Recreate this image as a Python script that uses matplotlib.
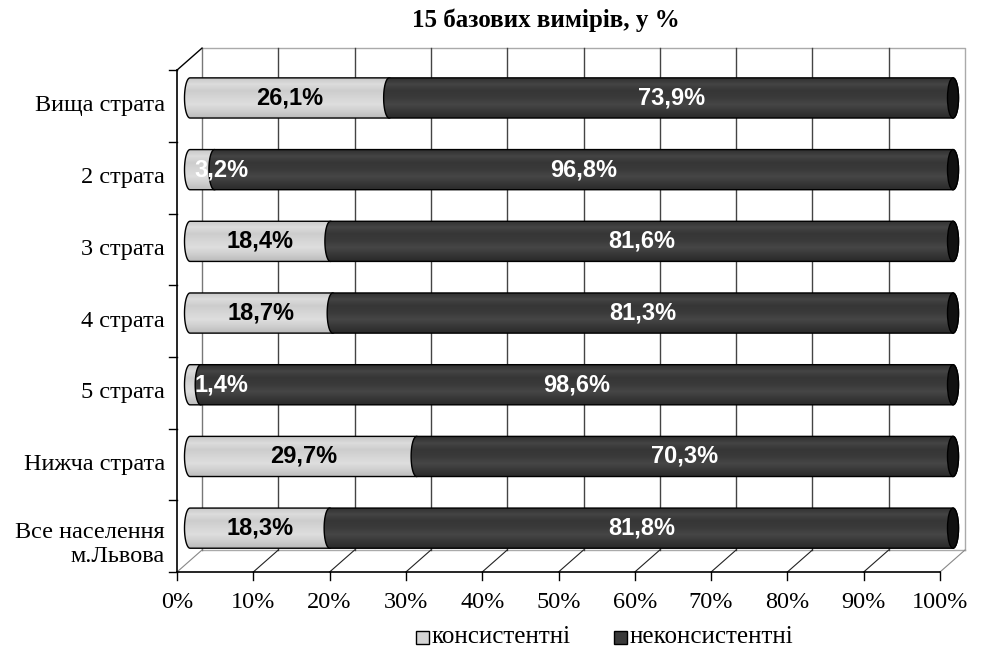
import matplotlib
matplotlib.use("Agg")
import matplotlib.pyplot as plt
import numpy as np
from matplotlib.patches import Polygon, Ellipse, Rectangle
from matplotlib.colors import LinearSegmentedColormap

plt.rcParams['font.family'] = ['Liberation Serif', 'DejaVu Serif']

# data (bottom to top)
categories = ['Все населення\nм.Львова', 'Нижча страта', '5 страта', '4 страта',
              '3 страта', '2 страта', 'Вища страта']
consistent = [18.3, 29.7, 1.4, 18.7, 18.4, 3.2, 26.1]
inconsistent = [81.8, 70.3, 98.6, 81.3, 81.6, 96.8, 73.9]
xticks = list(range(0, 101, 10))
series_names = ['консистентні', 'неконсистентні']

light_col = '#d4d4d4'
dark_col = '#3a3a3a'

fig = plt.figure(figsize=(9.81, 6.53), dpi=100)
ax = fig.add_axes([0, 0, 1, 1])
# pixel mapping: 0% at px 177, 100% at px 940; y front bottom px 572, 71.7 px per row
pxx = 7.63
pxy = 71.7
ax.set_xlim(-177 / pxx, (981 - 177) / pxx)
ax.set_ylim(-(653 - 572) / pxy, 572 / pxy)
ax.axis('off')

n = len(categories)
dx, dy = 25 / pxx, 22 / pxy      # depth of the wall
mx, my = 13 / pxx, 8 / pxy       # bars at mid depth
ew, eh = 5.5 / pxx, 0.28         # ellipse half sizes

# back wall
ax.plot([dx, 100 + dx, 100 + dx], [n + dy, n + dy, dy], color='#aaaaaa', lw=1)
ax.plot([dx, 100 + dx], [dy, dy], color='#aaaaaa', lw=1)
for t in xticks[:-1]:
    ax.plot([t + dx, t + dx], [dy, n + dy], color='#777777' if t == 0 else '#444444', lw=1)
# floor
for t in xticks:
    ax.plot([t, t + dx], [0, dy], color='#222222' if 0 < t < 100 else '#888888', lw=0.8)
ax.plot([0, 100], [0, 0], color='black', lw=1.2)
for t in xticks:
    ax.plot([t, t], [0, -8 / pxy], color='black', lw=1)
    ax.text(t, -31 / pxy, f'{t}%', ha='center', va='center', fontsize=17.5)
# left side wall
ax.plot([0, 0], [0, n], color='black', lw=1.2)
ax.plot([0, dx], [n, n + dy], color='black', lw=1)
for i in range(n + 1):
    ax.plot([-8 / pxx, 0], [i, i], color='black', lw=1)
for i, c in enumerate(categories):
    ax.text(-12 / pxx, i + 0.5 - (0.12 if '\n' in c else 0), c, ha='right', va='center',
            fontsize=17.5, linespacing=1.2)

cmap_light = LinearSegmentedColormap.from_list(
    'l', ['#bcbcbc', '#cfcfcf', '#dedede', '#d6d6d6', '#cdcdcd', '#dcdcdc', '#c6c6c6'])
cmap_dark = LinearSegmentedColormap.from_list(
    'd', ['#2a2a2a', '#383838', '#464646', '#3a3a3a', '#363636', '#444444', '#2e2e2e'])

z = [3]


def segment(a, b, yc, cmap, color):
    th = np.linspace(np.pi / 2, 3 * np.pi / 2, 40)
    left = np.column_stack([a + mx + ew * np.cos(th), yc + eh * np.sin(th)])
    th2 = np.linspace(-np.pi / 2, np.pi / 2, 40)
    right = np.column_stack([b + mx + ew * np.cos(th2), yc + eh * np.sin(th2)])
    pts = np.vstack([left, right])
    zz = z[0]
    poly = Polygon(pts, closed=True, facecolor=color, edgecolor='none', zorder=zz)
    ax.add_patch(poly)
    grad = np.linspace(0, 1, 60).reshape(-1, 1)
    im = ax.imshow(grad, cmap=cmap, aspect='auto', origin='lower', zorder=zz + 0.01,
                   extent=[a + mx - ew, b + mx + ew, yc - eh, yc + eh])
    im.set_clip_path(poly)
    ax.add_patch(Polygon(pts, closed=True, facecolor='none', edgecolor='black',
                         lw=1, zorder=zz + 0.02))
    z[0] += 0.1


for i in range(n):
    yc = i + 0.5 + my
    v1 = consistent[i]
    v2 = inconsistent[i]
    segment(0, v1, yc, cmap_light, light_col)
    segment(v1, 100, yc, cmap_dark, dark_col)
    ax.add_patch(Ellipse((100 + mx, yc), 2 * ew, 2 * eh, facecolor='#111111',
                         edgecolor='black', lw=1, zorder=z[0]))
    z[0] += 0.1
    lab1 = f'{v1:.1f}%'.replace('.', ',')
    lab2 = f'{v2:.1f}%'.replace('.', ',')
    if v1 < 5:
        ax.text(mx + 0.6, yc, lab1, ha='left', va='center', color='white',
                fontsize=17, fontweight='bold', family='Liberation Sans', zorder=10)
    else:
        ax.text(mx + v1 / 2, yc, lab1, ha='center', va='center', color='black',
                fontsize=17, fontweight='bold', family='Liberation Sans', zorder=10)
    ax.text(mx + (v1 + 100) / 2, yc, lab2, ha='center', va='center', color='white',
            fontsize=17, fontweight='bold', family='Liberation Sans', zorder=10)

ax.text((546 - 177) / pxx, (572 - 20) / pxy, '15 базових вимірів, у %',
        ha='center', va='center', fontsize=18, fontweight='bold')

# legend
ly = (572 - 637) / pxy
sq = 13
for x0, name, col in [(416, series_names[0], light_col), (614, series_names[1], dark_col)]:
    ax.add_patch(Rectangle(((x0 - 177) / pxx, ly - sq / 2 / pxy), sq / pxx, sq / pxy,
                           facecolor=col, edgecolor='black', lw=1))
    ax.text((x0 + sq + 3 - 177) / pxx, ly, name, ha='left', va='center', fontsize=18)

fig.savefig('out.png', dpi=100)
